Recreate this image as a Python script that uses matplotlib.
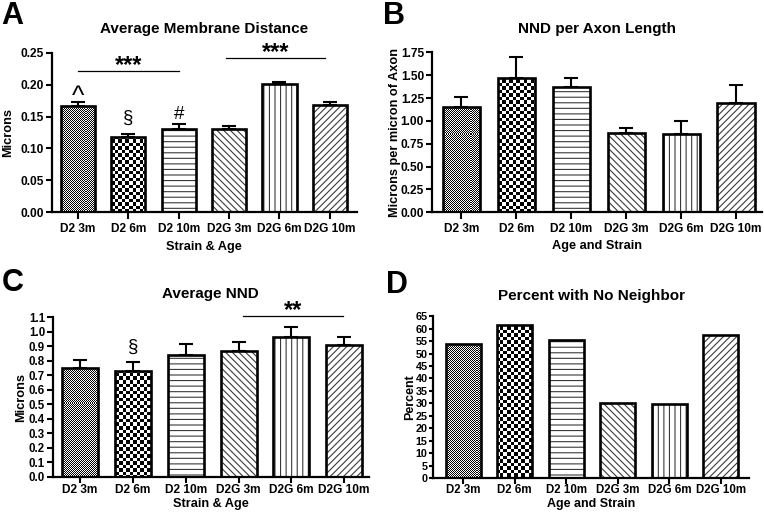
import numpy as np
import matplotlib
matplotlib.use("Agg")
import matplotlib.pyplot as plt

plt.rcParams['font.family'] = ['Liberation Sans', 'DejaVu Sans']
plt.rcParams['font.weight'] = 'bold'
plt.rcParams['hatch.linewidth'] = 0.8

groups = ["D2 3m", "D2 6m", "D2 10m", "D2G 3m", "D2G 6m", "D2G 10m"]

# Panel A: Average Membrane Distance
a_vals = [0.167, 0.118, 0.131, 0.131, 0.2005, 0.168]
a_err = [0.006, 0.005, 0.007, 0.004, 0.004, 0.005]
a_ticks = [0.00, 0.05, 0.10, 0.15, 0.20, 0.25]
a_marks = ["^", "§", "#", "", "", ""]
a_sig = [(0.0, 2.0, 0.221, "***"), (2.93, 4.9, 0.2415, "***")]

# Panel B: NND per Axon Length
b_vals = [1.152, 1.466, 1.374, 0.871, 0.856, 1.192]
b_err = [0.106, 0.229, 0.098, 0.054, 0.143, 0.200]
b_ticks = [0.00, 0.25, 0.50, 0.75, 1.00, 1.25, 1.50, 1.75]

# Panel C: Average NND
c_vals = [0.749, 0.726, 0.839, 0.867, 0.966, 0.908]
c_err = [0.058, 0.064, 0.074, 0.064, 0.069, 0.058]
c_ticks = [0.0, 0.1, 0.2, 0.3, 0.4, 0.5, 0.6, 0.7, 0.8, 0.9, 1.0, 1.1]
c_marks = ["", "§", "", "", "", ""]
c_sig = [(3.08, 4.98, 1.111, "**")]

# Panel D: Percent with No Neighbor
d_vals = [53.8, 61.6, 55.5, 30.1, 29.9, 57.5]
d_ticks = list(range(0, 70, 5))

# symbol styling: (fontsize, vertical offset in points above error-bar top)
mark_style = {"^": (19, -1.5), "§": (13.5, 7.8), "#": (13.5, 4.0)}

W, H = 764, 516
fig = plt.figure(figsize=(W / 100, H / 100), dpi=100)

styles = [
    dict(kind="checker", cell=1),
    dict(kind="checker", cell=3.5),
    dict(kind="hatch", hatch="---"),
    dict(kind="hatch", hatch="\\\\\\\\\\"),
    dict(kind="hatch", hatch="|||"),
    dict(kind="hatch", hatch="/////"),
]


def make_ax(l, r, t, b):
    return fig.add_axes([l / W, 1 - b / H, (r - l) / W, (b - t) / H])


def texture(ax, patch, cell):
    pos = ax.get_position()
    w = int(round(pos.width * W)) * 2
    h = int(round(pos.height * H)) * 2
    yy, xx = np.mgrid[0:h, 0:w]
    c2 = cell * 2
    arr = ((np.floor(xx / c2) + np.floor(yy / c2)) % 2).astype(float)
    im = ax.imshow(arr, cmap="gray", vmin=0, vmax=1, extent=(0, 1, 0, 1),
                   transform=ax.transAxes, interpolation="nearest",
                   aspect="auto", zorder=2)
    im.set_clip_path(patch)


def panel(ax, vals, err, ticks, ylim, xlim, title, ylabel, xlabel,
          ylabel_x, xlabel_y, title_pad, tick_fs=8.6, xlen=5, xpad=2.5,
          label_fs=9.2, xtick_fs=8.6):
    x = np.arange(len(groups))
    width = 0.68
    for i, v in enumerate(vals):
        st = styles[i]
        if st["kind"] == "hatch":
            ax.bar(x[i], v, width, facecolor="white", edgecolor="#3a3a3a",
                   linewidth=0, hatch=st["hatch"], zorder=2)
        outline = ax.bar(x[i], v, width, facecolor="none", edgecolor="black",
                         linewidth=1.9, zorder=4)[0]
        if st["kind"] == "checker":
            texture(ax, outline, st["cell"])
    if err is not None:
        ax.errorbar(x, vals, yerr=[np.zeros(len(vals)), err], fmt="none",
                    ecolor="black", elinewidth=1.5, capsize=5, capthick=1.5,
                    zorder=3)
    ax.set_xticks(x)
    ax.set_xticklabels(groups, fontsize=xtick_fs, fontweight="bold")
    ax.set_yticks(ticks)
    ax.tick_params(axis="y", labelsize=tick_fs, width=1.5, length=4, pad=1.5)
    ax.tick_params(axis="x", width=1.5, length=xlen, pad=xpad)
    for lbl in ax.get_yticklabels():
        lbl.set_fontweight("bold")
    for s in ["top", "right"]:
        ax.spines[s].set_visible(False)
    for s in ["left", "bottom"]:
        ax.spines[s].set_linewidth(1.6)
    ax.set_ylim(*ylim)
    ax.set_xlim(*xlim)
    ax.set_title(title, fontsize=11, fontweight="bold", pad=title_pad)
    ax.set_ylabel(ylabel, fontsize=label_fs, fontweight="bold")
    ax.set_xlabel(xlabel, fontsize=label_fs, fontweight="bold")
    ax.yaxis.set_label_coords(ylabel_x, 0.5)
    ax.xaxis.set_label_coords(0.5, xlabel_y)


def add_marks(ax, vals, err, marks):
    for i, m in enumerate(marks):
        if m:
            fs, off = mark_style[m]
            ax.annotate(m, xy=(i, vals[i] + err[i]),
                        xytext=(0, off), textcoords="offset points",
                        ha="center", va="baseline", fontsize=fs,
                        fontweight="normal")


def add_sig(ax, sig):
    for x0, x1, y, s in sig:
        ax.plot([x0, x1], [y, y], color="black", lw=0.9, clip_on=False)
        ax.annotate(s, xy=((x0 + x1) / 2, y), xytext=(0, -0.6),
                    textcoords="offset points", ha="center", va="baseline",
                    fontsize=17, fontweight="bold", annotation_clip=False)


def fmt2(ticks):
    return ["%.2f" % t for t in ticks]


axA = make_ax(51.7, 357, 52.7, 212.3)
panel(axA, a_vals, a_err, a_ticks, (0, 0.25), (-0.52, 5.54),
      "Average Membrane Distance", "Microns", "Strain & Age", -0.123, -0.178, 14)
axA.set_yticklabels(fmt2(a_ticks))
add_marks(axA, a_vals, a_err, a_marks)
add_sig(axA, a_sig)

axB = make_ax(431.7, 762, 52.3, 212.3)
panel(axB, b_vals, b_err, b_ticks, (0, 1.75), (-0.54, 5.47),
      "NND per Axon Length", "Microns per micron of Axon", "Age and Strain",
      -0.094, -0.176, 14)
axB.set_yticklabels(fmt2(b_ticks))

axC = make_ax(52.7, 369, 317.3, 476.7)
panel(axC, c_vals, c_err, c_ticks, (0, 1.1), (-0.52, 5.47),
      "Average NND", "Microns", "Strain & Age", -0.08, -0.135, 14,
      tick_fs=8.3, xlen=4, xpad=1.0)
axC.set_yticklabels(["%.1f" % t for t in c_ticks])
add_marks(axC, c_vals, c_err, c_marks)
add_sig(axC, c_sig)

axD = make_ax(433.3, 748.7, 316.3, 478)
panel(axD, d_vals, None, d_ticks, (0, 65), (-0.58, 5.54),
      "Percent with No Neighbor", "Percent", "Age and Strain", -0.055, -0.124, 12,
      tick_fs=7.8, xlen=4, xpad=0.5, label_fs=9.0, xtick_fs=8.3)
axD.set_yticklabels([str(t) for t in d_ticks])
axD.tick_params(axis="y", length=3, pad=1.0)

for letter, px, py in [("A", 1, 24), ("B", 383, 24), ("C", 2, 291), ("D", 386, 293)]:
    fig.text(px / W, 1 - py / H, letter, fontsize=22, fontweight="bold",
             ha="left", va="baseline")

fig.savefig("out.png", dpi=100)
